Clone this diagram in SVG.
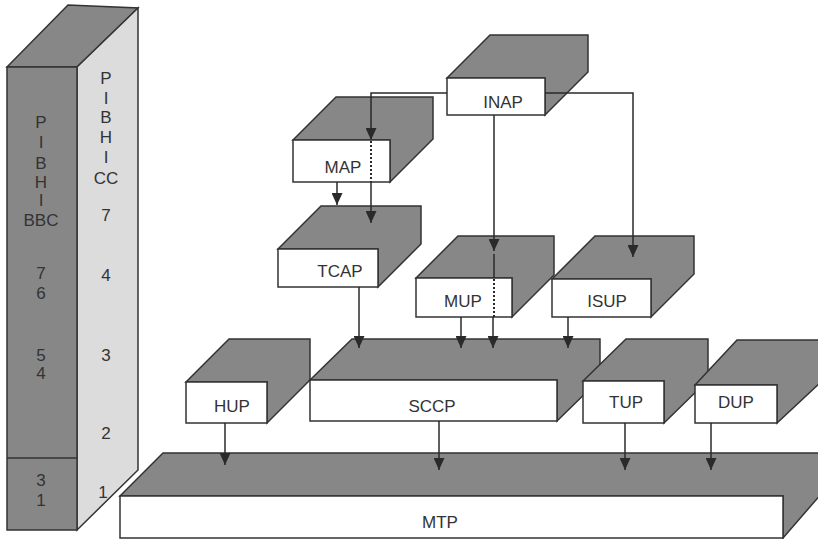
<svg xmlns="http://www.w3.org/2000/svg" width="818" height="539" viewBox="0 0 818 539">
  <style>
    .top { fill: #878787; stroke: #333; stroke-width: 1.5; stroke-linejoin: miter; }
    .front { fill: #ffffff; stroke: #333; stroke-width: 1.5; }
    .lbl { font-family: "Liberation Sans", Arial, sans-serif; font-size: 17px; fill: #333; text-anchor: middle; }
    .conn { fill: none; stroke: #2a2a2a; stroke-width: 1.5; }
    .dot { fill: none; stroke: #2a2a2a; stroke-width: 2; stroke-dasharray: 2 2; }
  </style>
  <defs>
    <marker id="arrow" markerUnits="userSpaceOnUse" markerWidth="12" markerHeight="11" refX="12" refY="5.5" orient="auto">
      <path d="M0,0 L12,5.5 L0,11 z" fill="#2a2a2a"/>
    </marker>
  </defs>
  <rect width="818" height="539" fill="#ffffff"/>

  <!-- protocol column with both parts -->
  <g id="pillar">
    <polygon points="7,67 68,5 138,8 77,67" fill="#878787" stroke="#333" stroke-width="1.5"/>
    <polygon points="77,67 138,8 138,470 77,530" fill="#dcdcdc" stroke="#333" stroke-width="1.5"/>
    <rect x="7" y="67" width="70" height="463" fill="#878787" stroke="#333" stroke-width="1.5"/>
    <line x1="7" y1="458" x2="77" y2="458" stroke="#333" stroke-width="1.5"/>
    <text class="lbl" x="41" y="128">P</text>
    <text class="lbl" x="41" y="148">I</text>
    <text class="lbl" x="41" y="169">B</text>
    <text class="lbl" x="41" y="188">H</text>
    <text class="lbl" x="41" y="206">I</text>
    <text class="lbl" x="41" y="226">BBC</text>
    <text class="lbl" x="41" y="279">7</text>
    <text class="lbl" x="41" y="299">6</text>
    <text class="lbl" x="41" y="361">5</text>
    <text class="lbl" x="41" y="379">4</text>
    <text class="lbl" x="41" y="486">3</text>
    <text class="lbl" x="41" y="506">1</text>
    <text class="lbl" x="106" y="84">P</text>
    <text class="lbl" x="106" y="104">I</text>
    <text class="lbl" x="106" y="123">B</text>
    <text class="lbl" x="106" y="143">H</text>
    <text class="lbl" x="106" y="163">I</text>
    <text class="lbl" x="106" y="184">CC</text>
    <text class="lbl" x="106" y="221">7</text>
    <text class="lbl" x="106" y="281">4</text>
    <text class="lbl" x="106" y="361">3</text>
    <text class="lbl" x="106" y="439">2</text>
    <text class="lbl" x="103" y="498">1</text>
  </g>

  <g id="mtp">
    <polygon class="top" points="120,496 163,453 828,453 828,486 783,538 783,496"/>
    <rect class="front" x="120" y="496" width="663" height="42"/>
    <text class="lbl" x="440" y="528">MTP</text>
  </g>

  <g id="inap">
    <polygon class="top" points="447,78 490,35 588,35 588,72 545,115 545,78"/>
    <rect class="front" x="447" y="78" width="98" height="37"/>
    <text class="lbl" x="503" y="108">INAP</text>
  </g>

  <g id="map">
    <polygon class="top" points="293,140 336,97 433,97 433,139 390,182 390,140"/>
    <rect class="front" x="293" y="140" width="97" height="42"/>
    <text class="lbl" x="343" y="173">MAP</text>
  </g>

  <g id="tcap">
    <polygon class="top" points="278,249 321,206 421,206 421,244 378,287 378,249"/>
    <rect class="front" x="278" y="249" width="100" height="38"/>
    <text class="lbl" x="340" y="277">TCAP</text>
  </g>

  <g id="mup">
    <polygon class="top" points="416,278 458,236 554,236 554,275 512,317 512,278"/>
    <rect class="front" x="416" y="278" width="96" height="39"/>
    <text class="lbl" x="463" y="307">MUP</text>
  </g>

  <g id="isup">
    <polygon class="top" points="552,279 595,236 694,236 694,274 651,317 651,279"/>
    <rect class="front" x="552" y="279" width="99" height="38"/>
    <text class="lbl" x="607" y="307">ISUP</text>
  </g>

  <g id="hup">
    <polygon class="top" points="186,382 229,339 310,339 310,380 267,423 267,382"/>
    <rect class="front" x="186" y="382" width="81" height="41"/>
    <text class="lbl" x="232" y="412">HUP</text>
  </g>

  <g id="sccp">
    <polygon class="top" points="310,380 352,339 600,339 600,379 557,421 557,380"/>
    <rect class="front" x="310" y="380" width="247" height="41"/>
    <text class="lbl" x="432" y="412">SCCP</text>
  </g>

  <g id="tup">
    <polygon class="top" points="583,381 626,339 708,339 708,380 664,423 664,381"/>
    <rect class="front" x="583" y="381" width="81" height="42"/>
    <text class="lbl" x="626" y="408">TUP</text>
  </g>

  <g id="dup">
    <polygon class="top" points="695,385 737,340 822,340 822,381 777,423 777,385"/>
    <rect class="front" x="695" y="385" width="82" height="38"/>
    <text class="lbl" x="736" y="408">DUP</text>
  </g>

  <g id="connectors">
    <path class="conn" d="M447,93 H371 V140" marker-end="url(#arrow)"/>
    <path class="dot" d="M371,141 V182"/>
    <path class="conn" d="M371,182 V223" marker-end="url(#arrow)"/>
    <path class="conn" d="M337,182 V205" marker-end="url(#arrow)"/>
    <path class="conn" d="M494,115 V251" marker-end="url(#arrow)"/>
    <path class="conn" d="M494,254 V278"/>
    <path class="dot" d="M494,279 V317"/>
    <path class="conn" d="M493,317 V348" marker-end="url(#arrow)"/>
    <path class="conn" d="M545,93 H633 V257" marker-end="url(#arrow)"/>
    <path class="conn" d="M359,287 V348" marker-end="url(#arrow)"/>
    <path class="conn" d="M461,317 V348" marker-end="url(#arrow)"/>
    <path class="conn" d="M568,317 V348" marker-end="url(#arrow)"/>
    <path class="conn" d="M225,423 V465" marker-end="url(#arrow)"/>
    <path class="conn" d="M439,421 V470" marker-end="url(#arrow)"/>
    <path class="conn" d="M625,423 V470" marker-end="url(#arrow)"/>
    <path class="conn" d="M711,423 V470" marker-end="url(#arrow)"/>
  </g>
</svg>
